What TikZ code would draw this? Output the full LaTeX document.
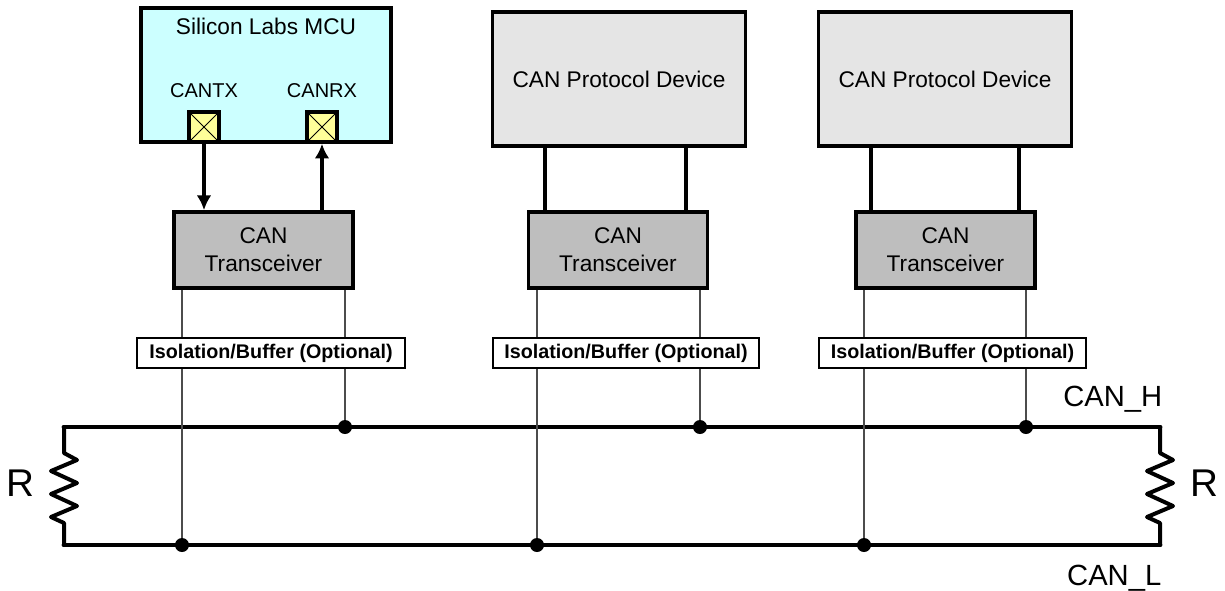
\documentclass[tikz,border=0pt]{standalone}
\usepackage{fontspec}
\setmainfont{Liberation Sans}
\usetikzlibrary{arrows.meta}
\definecolor{mcucol}{HTML}{CCFFFF}
\definecolor{padcol}{HTML}{FFFF99}
\definecolor{devcol}{HTML}{E5E5E5}
\definecolor{trcol}{HTML}{BEBEBE}
\tikzset{
  txt/.style={font=\fontsize{17}{21}\selectfont},
  box/.style={draw=black,line width=2.8pt,rectangle,minimum width=#1*.75pt,inner sep=0pt,txt,align=center},
  device/.style={box=253,minimum height=134*.75pt,fill=devcol},
  mcu/.style={box=250,minimum height=134*.75pt,fill=mcucol},
  transceiver/.style={box=179,minimum height=76*.75pt,fill=trcol},
  iso/.style={draw=black,line width=1.6pt,fill=white,rectangle,minimum width=#1*.75pt,minimum height=30*.75pt,inner sep=0pt,font=\fontsize{14.8}{18}\selectfont\bfseries},
  pad/.style={draw=black,line width=2.6pt,fill=padcol,rectangle,minimum size=30*.75pt,inner sep=0pt,
    path picture={\draw[line width=.7pt] (path picture bounding box.north west) -- (path picture bounding box.south east)
      (path picture bounding box.south west) -- (path picture bounding box.north east);}},
  dot/.style={circle,fill=black,inner sep=0pt,minimum size=14*.75pt},
  link/.style={line width=2.8pt},
  sig/.style={link,-{Latex[length=11pt,width=11pt]}},
  bus/.style={line width=3.6pt,line cap=round,line join=round},
  resistor/.style={line width=3pt,line cap=round,line join=round},
  tap/.style={line width=.9pt,black!70},
}
\begin{document}
\begin{tikzpicture}[x=.75pt,y=-.75pt]
\useasboundingbox (0,0) rectangle (1225,590);
% bus
\coordinate (hl) at (64,427);
\coordinate (hr) at (1160,427);
\coordinate (ll) at (64,545);
\coordinate (lr) at (1160,545);
\draw[bus] (hl) -- (hr);
\draw[bus] (ll) -- (lr);
\draw[resistor] (hl) -- (64,453) -- (77,460) -- (51,471) -- (77,483) -- (51,494) -- (77,506) -- (51,517) -- (64,523) -- (ll);
\draw[resistor] (hr) -- (1160,453) -- (1173,460) -- (1147,471) -- (1173,483) -- (1147,494) -- (1173,506) -- (1147,517) -- (1160,523) -- (lr);
\node[font=\fontsize{29}{32}\selectfont] (rl) at (20,483) {R};
\node[font=\fontsize{29}{32}\selectfont] (rr) at (1204,483) {R};
\node[font=\fontsize{21.9}{24}\selectfont,anchor=east] (canh) at (1167,399) {CAN\_H};
\node[font=\fontsize{21.9}{24}\selectfont,anchor=east] (canl) at (1166,578) {CAN\_L};
% devices
\node[mcu] (dev1) at (266,75) {};
\node[txt] (mcutxt) at (266,26) {Silicon Labs MCU};
\node[device] (dev2) at (619,79) {CAN Protocol Device};
\node[device] (dev3) at (945,79) {CAN Protocol Device};
\node[pad] (tx) at (204,127) {};
\node[pad] (rx) at (322,127) {};
\node[font=\fontsize{15}{18}\selectfont] (txtxt) at (204,91) {CANTX};
\node[font=\fontsize{15}{18}\selectfont] (rxtxt) at (322,91) {CANRX};
% transceivers
\node[transceiver] (tr1) at (263.5,250) {CAN\\Transceiver};
\node[transceiver] (tr2) at (618,250) {CAN\\Transceiver};
\node[transceiver] (tr3) at (945.5,250) {CAN\\Transceiver};
\draw[sig] (tx.south) -- (tr1.north -| tx);
\draw[sig] (tr1.north -| rx) -- (rx.south);
\foreach \a in {545,686} \draw[link] (dev2.south -| \a,0) -- (tr2.north -| \a,0);
\foreach \a in {871,1019} \draw[link] (dev3.south -| \a,0) -- (tr3.north -| \a,0);
% taps
\foreach \n/\lx/\hx in {1/182/345,2/537/700,3/864/1026} {
  \node[dot] (l\n) at (\lx,545) {};
  \node[dot] (h\n) at (\hx,427) {};
  \draw[tap] (tr\n.south -| l\n) -- (l\n);
  \draw[tap] (tr\n.south -| h\n) -- (h\n);
}
\node[iso=268] (iso1) at (271,353) {Isolation/Buffer (Optional)};
\node[iso=266] (iso2) at (626,353) {Isolation/Buffer (Optional)};
\node[iso=267] (iso3) at (952.5,353) {Isolation/Buffer (Optional)};
\end{tikzpicture}
\end{document}
